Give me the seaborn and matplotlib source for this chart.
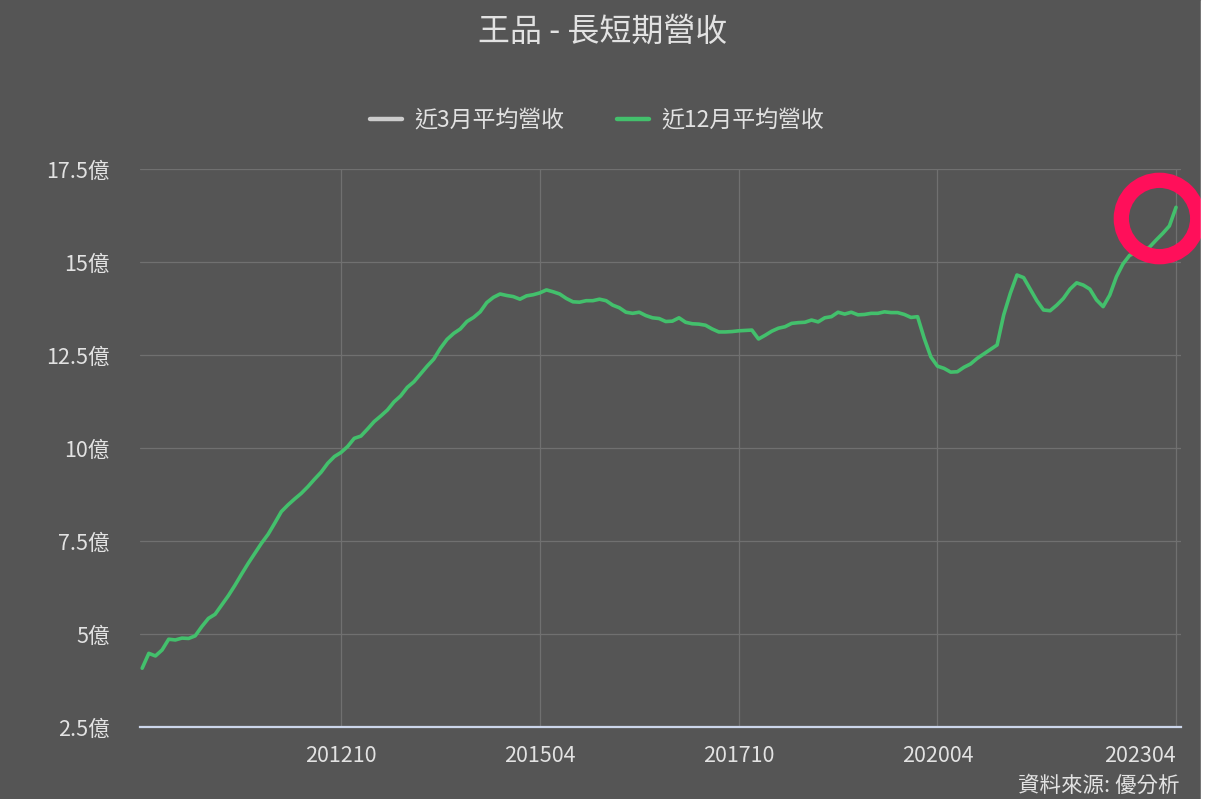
# 王品 - 長短期營收 (12-month average revenue, 億)

# --- imports --- #
import pandas as pd
import matplotlib.pyplot as plt
import seaborn as sns
from matplotlib.patches import Rectangle

# --- data --- #
months = [str(p).replace('-', '') for p in pd.period_range('2010-04', '2023-04', freq='M')]

rev_12m = [
    4.08, 4.48, 4.41, 4.57, 4.86, 4.84, 4.89, 4.88, 4.95, 5.20,
    5.42, 5.53, 5.78, 6.03, 6.31, 6.61, 6.90, 7.17, 7.44, 7.68,
    7.98, 8.29, 8.47, 8.63, 8.78, 8.96, 9.16, 9.35, 9.59, 9.77,
    9.88, 10.04, 10.26, 10.32, 10.51, 10.71, 10.86, 11.02, 11.24, 11.40,
    11.63, 11.78, 11.99, 12.20, 12.39, 12.68, 12.92, 13.08, 13.20, 13.40,
    13.51, 13.66, 13.91, 14.05, 14.14, 14.10, 14.07, 14.00, 14.09, 14.12,
    14.17, 14.25, 14.20, 14.14, 14.02, 13.93, 13.92, 13.96, 13.96, 14.00,
    13.96, 13.84, 13.77, 13.65, 13.62, 13.65, 13.56, 13.50, 13.48, 13.40,
    13.41, 13.50, 13.38, 13.34, 13.33, 13.30, 13.20, 13.12, 13.12, 13.13,
    13.15, 13.16, 13.17, 12.93, 13.03, 13.14, 13.22, 13.26, 13.35, 13.37,
    13.38, 13.44, 13.39, 13.50, 13.53, 13.65, 13.60, 13.65, 13.58, 13.59,
    13.62, 13.62, 13.66, 13.64, 13.64, 13.59, 13.51, 13.53, 12.95, 12.45,
    12.20, 12.14, 12.04, 12.05, 12.17, 12.26, 12.41, 12.53, 12.65, 12.77,
    13.58, 14.16, 14.65, 14.58, 14.27, 13.96, 13.71, 13.69, 13.84, 14.02,
    14.27, 14.44, 14.38, 14.27, 13.98, 13.80, 14.11, 14.60, 14.95, 15.18,
    15.25, 15.30, 15.40, 15.59, 15.77, 15.97, 16.47,
]

x_ticks = ['201210', '201504', '201710', '202004', '202304']
y_ticks = [2.5, 5, 7.5, 10, 12.5, 15, 17.5]

df = pd.DataFrame({'idx': range(len(months)), 'month': months, 'rev': rev_12m})

# --- style --- #
BG = '#555555'
GREEN = '#43c06c'
TXT = '#e2e2e2'
sns.set_theme(style='dark')
plt.rcParams['font.family'] = ['Noto Sans CJK TC', 'DejaVu Sans']
plt.rcParams['axes.unicode_minus'] = False

W, H = 1206, 799
fig = plt.figure(figsize=(W / 100, H / 100), dpi=100, facecolor=BG)
ax = fig.add_axes([140 / W, (H - 727) / H, 1041 / W, 558 / H])
ax.set_facecolor(BG)

## main line
sns.lineplot(data=df, x='idx', y='rev', ax=ax, color=GREEN, lw=2.6,
             label='近12月平均營收', zorder=3)
## 3-month series only appears in legend
h3, = ax.plot([], [], color='#cccccc', lw=3.2, label='近3月平均營收')

## axes
ax.set_xlim(-0.33, len(months) - 1 + 0.75)
ax.set_ylim(2.5, 17.5)
ax.set_xticks([months.index(t) for t in x_ticks])
ax.set_xticklabels(x_ticks)
ax.set_yticks(y_ticks)
ax.set_yticklabels([f"{v:g}億" for v in y_ticks])
ax.tick_params(axis='x', length=0, pad=13, labelsize=15.5, labelcolor=TXT)
ax.tick_params(axis='y', length=0, pad=22, labelsize=15.5, labelcolor=TXT)
ax.get_xticklabels()[-1].set_horizontalalignment('right')
ax.set_xlabel('')
ax.set_ylabel('')
ax.grid(True, color='#707070', lw=0.9)
for s in ['top', 'left', 'right']:
	ax.spines[s].set_visible(False)
ax.spines['bottom'].set_color('#ccd6eb')
ax.spines['bottom'].set_linewidth(1.6)

## legend
ax.get_legend().remove()
h12_proxy = plt.Line2D([], [], color=GREEN, lw=3.2)
fig.legend([h3, h12_proxy], ['近3月平均營收', '近12月平均營收'], loc='center',
           bbox_to_anchor=(597 / W, 1 - 121 / H), ncol=2, frameon=False,
           fontsize=16.5, handlelength=1.4, handletextpad=0.55,
           columnspacing=2.3, labelcolor=TXT)

## highlight ring near latest value
ax.plot([df['idx'].iloc[-1] - 2.5], [df['rev'].iloc[-1] - 0.3], marker='o', ms=55,
        mfc='none', mec='#ff0f5a', mew=11, clip_on=False, zorder=5)

## title and source
fig.text(0.5, 1 - 32 / H, '王品 - 長短期營收', ha='center', va='center',
         fontsize=23, color=TXT)
fig.text(1179 / W, 1 - 786 / H, '資料來源: 優分析', ha='right', va='center',
         fontsize=15.5, color=TXT)

## white strip at right edge
fig.patches.append(Rectangle((1201 / W, 0), 5 / W, 1, transform=fig.transFigure,
                             color='white', zorder=10))

plt.savefig('out.png', dpi=100, facecolor=BG)
plt.close()
